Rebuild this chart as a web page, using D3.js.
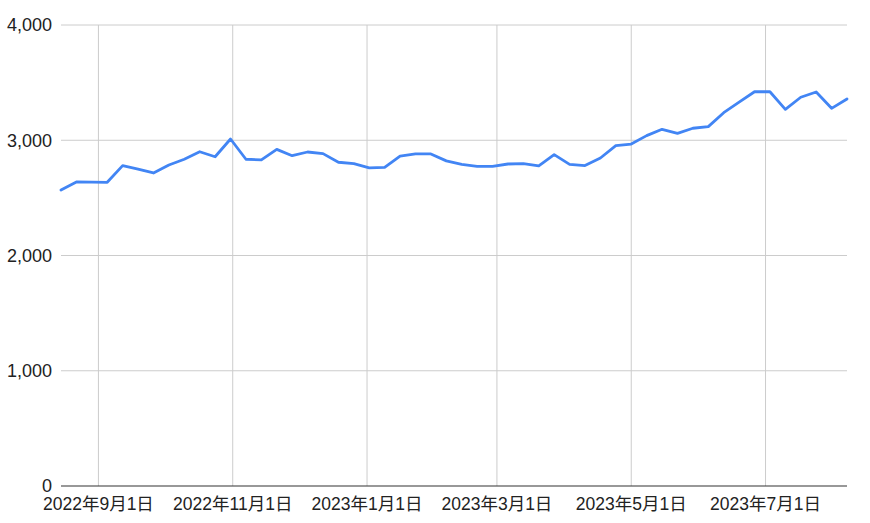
<!DOCTYPE html>
<html>
<head>
<meta charset="utf-8">
<script src="https://cdn.jsdelivr.net/npm/d3@7"></script>
<style>
  html, body { margin: 0; padding: 0; background: #fff; }
  svg { display: block; }
  text { font-family: Arial, "Liberation Sans", "Noto Sans CJK JP", sans-serif; fill: #222; }
</style>
</head>
<body>
<svg id="chart" width="870" height="523"></svg>
<script>
// Weekly dates (start of week)
const startDate = "2022-08-15";
const values = [
  2568, 2638, 2637, 2635, 2780, 2750, 2716, 2785, 2835, 2900,
  2857, 3011, 2835, 2829, 2921, 2866, 2898, 2884, 2809, 2797,
  2760, 2765, 2863, 2881, 2881, 2821, 2790, 2774, 2774, 2794,
  2797, 2777, 2875, 2791, 2780, 2846, 2953, 2967, 3040, 3095,
  3060, 3104, 3118, 3239, 3330, 3421, 3421, 3268, 3373, 3419,
  3277, 3358
];
const xTickDates = ["2022-09-01", "2022-11-01", "2023-01-01", "2023-03-01", "2023-05-01", "2023-07-01"];
const xTickLabels = ["2022年9月1日", "2022年11月1日", "2023年1月1日", "2023年3月1日", "2023年5月1日", "2023年7月1日"];
const yTicks = [0, 1000, 2000, 3000, 4000];

(function () {
const parse = d3.utcParse("%Y-%m-%d");
const t0 = parse(startDate);
const dates = values.map((v, i) => d3.utcDay.offset(t0, i * 7));
const data = values.map((v, i) => ({ date: dates[i], value: v }));

const svg = d3.select("#chart");
const mLeft = 61, mRight = 847, mTop = 25, mBottom = 486;

const x = d3.scaleUtc().domain([dates[0], dates[dates.length - 1]]).range([mLeft, mRight]);
const y = d3.scaleLinear().domain([0, 4000]).range([mBottom, mTop]);

// horizontal gridlines
svg.append("g").selectAll("line").data(yTicks.filter(d => d !== 0)).join("line")
  .attr("x1", mLeft).attr("x2", mRight)
  .attr("y1", d => y(d)).attr("y2", d => y(d))
  .attr("stroke", "#cccccc").attr("stroke-width", 1);

// vertical gridlines
const xt = xTickDates.map(parse);
svg.append("g").selectAll("line").data(xt).join("line")
  .attr("x1", d => x(d)).attr("x2", d => x(d))
  .attr("y1", mTop).attr("y2", mBottom)
  .attr("stroke", "#cccccc").attr("stroke-width", 1);

// baseline
svg.append("line")
  .attr("x1", mLeft).attr("x2", mRight)
  .attr("y1", y(0)).attr("y2", y(0))
  .attr("stroke", "#333333").attr("stroke-width", 1.2);

// y labels
const fmt = d3.format(",");
svg.append("g").selectAll("text").data(yTicks).join("text")
  .attr("x", 52).attr("y", d => y(d))
  .attr("dy", "0.36em")
  .attr("text-anchor", "end")
  .style("font-size", "18px")
  .text(d => fmt(d));

// x labels
svg.append("g").selectAll("text").data(xt).join("text")
  .attr("x", d => x(d)).attr("y", 509.5)
  .attr("text-anchor", "middle")
  .style("font-size", "17.5px")
  .text((d, i) => xTickLabels[i]);

// line
const line = d3.line().x(d => x(d.date)).y(d => y(d.value));
svg.append("path").datum(data)
  .attr("d", line)
  .attr("fill", "none")
  .attr("stroke", "#4285F4")
  .attr("stroke-width", 2.8)
  .attr("stroke-linejoin", "round")
  .attr("stroke-linecap", "round");
})();
</script>
</body>
</html>
